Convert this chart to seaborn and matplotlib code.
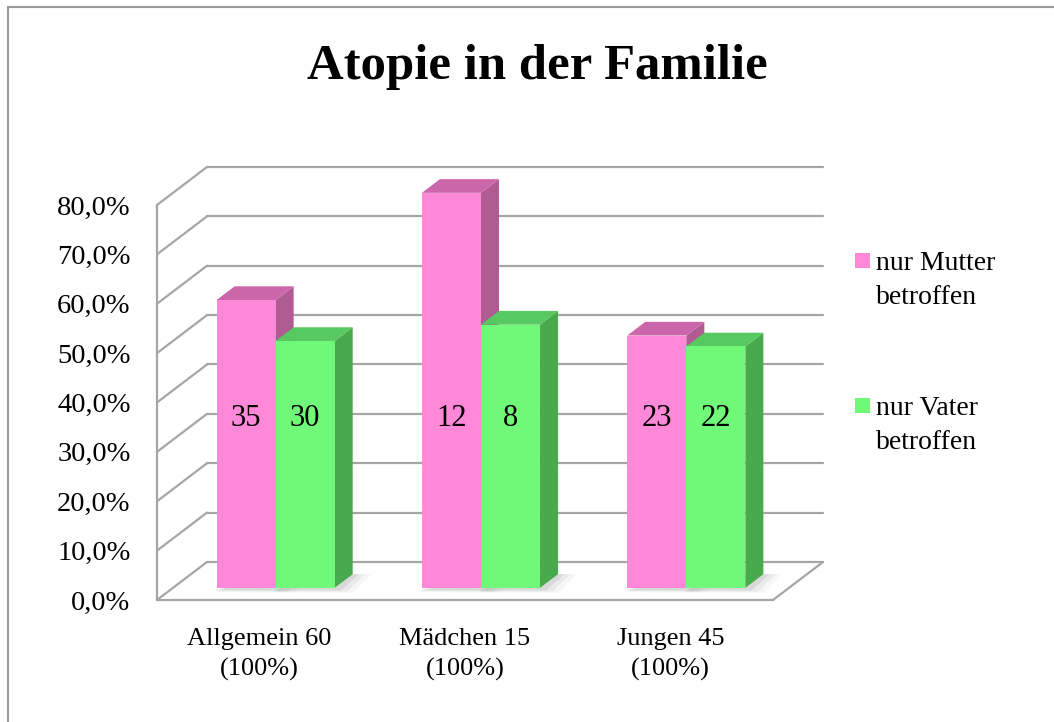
import matplotlib
matplotlib.use("Agg")
import matplotlib.pyplot as plt
import seaborn as sns
import pandas as pd
from matplotlib.patches import Polygon, Rectangle
from matplotlib.ticker import FuncFormatter

# data
categories = ["Allgemein 60\n(100%)", "Mädchen 15\n(100%)", "Jungen 45\n(100%)"]
series = ["nur Mutter\nbetroffen", "nur Vater\nbetroffen"]
mutter_pct = [58.3, 80.0, 51.1]
vater_pct = [50.0, 53.3, 48.9]
mutter_n = [35, 12, 23]
vater_n = [30, 8, 22]
y_ticks = [0, 10, 20, 30, 40, 50, 60, 70, 80]

# colours: front, top, side
pink = ["#ff88d8", "#cc66aa", "#b05c92"]
green = ["#70f878", "#58c860", "#48aa4c"]
grid_col = "#a6a6a6"

sns.set_style("white")
plt.rcParams["font.family"] = ["Liberation Serif", "DejaVu Serif"]
plt.rcParams["text.color"] = "black"

fig = plt.figure(figsize=(10.54, 7.22), dpi=100)
W, H = 1054, 722
ax = fig.add_axes([157 / W, 1 - 600 / H, 616 / W, 395 / H])

df = pd.DataFrame({
    "Gruppe": categories * 2,
    "Anteil": mutter_pct + vater_pct,
    "Serie": [series[0]] * 3 + [series[1]] * 3,
})

sns.barplot(data=df, x="Gruppe", y="Anteil", hue="Serie", palette=[pink[0], green[0]],
            width=0.575, saturation=1, legend=False, ax=ax, linewidth=0)
ax.set_xlim(-0.5, 2.5)
ax.set_ylim(0, 80)

# depth of the box (in data units) and of the bars
DX, DY = 0.2435, 7.7
f = 0.32
SX, SY = f * DX, f * DY
BDX, BDY = 0.36 * DX, 0.36 * DY

line_kw = dict(color=grid_col, lw=1.6, clip_on=False, zorder=1, solid_capstyle="round")
for t in y_ticks:
    ax.plot([-0.5 + DX, 2.5 + DX], [t + DY, t + DY], **line_kw)
    ax.plot([-0.5, -0.5 + DX], [t, t + DY], **line_kw)
ax.plot([-0.5, -0.5], [0, y_ticks[-1]], **line_kw)
ax.plot([-0.5, 2.5], [0, 0], **line_kw)
ax.plot([2.5, 2.5 + DX], [0, DY], **line_kw)

pink_rgba = matplotlib.colors.to_rgba(pink[0])
bars = sorted(ax.patches, key=lambda p: p.get_x())
pink_bars = [p for p in bars if abs(p.get_facecolor()[1] - pink_rgba[1]) < 0.05]
green_bars = [p for p in bars if p not in pink_bars]

# 3D faces for each bar
for rank, p in enumerate(bars):
    cols = pink if p in pink_bars else green
    x0 = p.get_x() + SX
    w = p.get_width()
    h = p.get_height()
    y0 = SY
    p.set_x(x0)
    p.set_y(y0)
    p.set_clip_on(False)
    z = 3 + rank * 0.1
    p.set_zorder(z + 0.05)
    # soft shadow on the floor
    for k, a in enumerate([0.05, 0.08, 0.12]):
        e = 0.03 * (3 - k)
        ax.add_patch(Polygon([(x0 - 0.01, y0 - 0.3 - e * 6), (x0 + w + e, y0 - 0.3 - e * 8),
                              (x0 + w + BDX + e, y0 + BDY), (x0 + w, y0 + BDY)],
                             closed=True, fc="#606060", ec="none", alpha=a,
                             zorder=2, clip_on=False))
    ax.add_patch(Polygon([(x0 + w, y0), (x0 + w + BDX, y0 + BDY),
                          (x0 + w + BDX, y0 + h + BDY), (x0 + w, y0 + h)],
                         closed=True, fc=cols[2], ec="none", zorder=z, clip_on=False))
    ax.add_patch(Polygon([(x0, y0 + h), (x0 + BDX, y0 + h + BDY),
                          (x0 + w + BDX, y0 + h + BDY), (x0 + w, y0 + h)],
                         closed=True, fc=cols[1], ec="none", zorder=z, clip_on=False))

# count labels inside the bars
for group, counts in [(pink_bars, mutter_n), (green_bars, vater_n)]:
    for p, n in zip(group, counts):
        ax.text(p.get_x() + p.get_width() / 2, 36.8, str(n), ha="center", va="center",
                fontsize=22, color="black", zorder=10)

for s in ax.spines.values():
    s.set_visible(False)
ax.set_yticks(y_ticks)
ax.yaxis.set_major_formatter(FuncFormatter(lambda v, _: f"{v:.1f}".replace(".", ",") + "%"))
ax.tick_params(axis="y", length=0, pad=19, labelsize=20.5, labelcolor="black")
ax.tick_params(axis="x", length=0, pad=20, labelsize=19, labelcolor="black")
for lbl in ax.get_xticklabels():
    lbl.set_linespacing(1.45)
ax.set_xlabel("")
ax.set_ylabel("")

# title
fig.text(537 / W, 1 - 67 / H, "Atopie in der Familie", fontsize=36.5, fontweight="bold",
         ha="center", va="center")

# legend
for i, (name, col) in enumerate(zip(series, [pink[0], green[0]])):
    ytop = 253 + i * 145
    fig.patches.append(Rectangle((855 / W, 1 - (ytop + 15) / H), 15 / W, 15 / H,
                                 transform=fig.transFigure, fc=col, ec="none"))
    fig.text(876 / W, 1 - (ytop - 2) / H, name, fontsize=20, ha="left", va="top",
             linespacing=1.45)

# outer frame
fig.patches.append(Rectangle((8 / W, -0.05), 1.2, 1 - 7 / H + 0.05, transform=fig.transFigure,
                             fc="none", ec="#9a9a9a", lw=1.5))

fig.savefig("out.png", dpi=100)
